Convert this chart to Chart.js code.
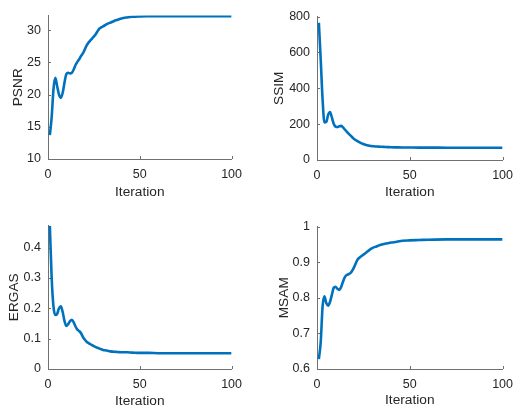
<!DOCTYPE html>
<html>
<head>
<meta charset="utf-8">
<script src="https://cdn.jsdelivr.net/npm/chart.js@4.4.1/dist/chart.umd.min.js"></script>
<style>
  html, body { margin: 0; padding: 0; background: #fff; }
  body { width: 516px; height: 410px; position: relative; overflow: hidden; }
  .panel { position: absolute; }
</style>
</head>
<body>
<div class="panel" id="p0"><canvas id="c0"></canvas></div>
<div class="panel" id="p1"><canvas id="c1"></canvas></div>
<div class="panel" id="p2"><canvas id="c2"></canvas></div>
<div class="panel" id="p3"><canvas id="c3"></canvas></div>
<script>
// iteration numbers where the curves were read
const iterations = [1, 2, 3, 4, 5, 6, 7, 8, 9, 10, 11, 12, 13, 14, 15, 16, 17, 18, 19, 20,
  21, 22, 23, 24, 25, 26, 27, 28, 29, 30, 32, 34, 36, 38, 40, 43, 46, 50, 55, 60, 70, 80, 90, 100];

const psnr = [13.7, 16.5, 20.9, 22.6, 21.3, 20.0, 19.5, 20.3, 21.9, 23.2, 23.4, 23.3, 23.4, 23.9, 24.6, 25.1, 25.5, 26.0, 26.4, 27.0,
  27.6, 28.05, 28.4, 28.7, 29.06, 29.4, 29.85, 30.25, 30.45, 30.6, 30.96, 31.2, 31.45, 31.65, 31.85, 32.0, 32.1, 32.15, 32.18, 32.2, 32.2, 32.2, 32.2, 32.2];

const ssim = [765, 560, 340, 210, 212, 252, 268, 238, 202, 186, 184, 188, 190, 182, 170, 158, 147, 137, 127, 117,
  110, 104, 98, 93, 89, 85, 82, 80, 78, 77, 75, 74, 73, 72, 71, 70.5, 70, 69.5, 69, 69, 68.5, 68.5, 68.5, 68.5];

const ergas = [0.472, 0.30, 0.205, 0.178, 0.182, 0.200, 0.207, 0.188, 0.158, 0.142, 0.148, 0.158, 0.162, 0.154, 0.140, 0.130, 0.125, 0.118, 0.106, 0.097,
  0.090, 0.086, 0.082, 0.079, 0.075, 0.072, 0.070, 0.067, 0.065, 0.063, 0.061, 0.058, 0.057, 0.056, 0.055, 0.055, 0.054, 0.053, 0.053, 0.052, 0.052, 0.052, 0.052, 0.052];

const msam = [0.628, 0.675, 0.775, 0.804, 0.785, 0.778, 0.788, 0.808, 0.828, 0.831, 0.825, 0.822, 0.830, 0.845, 0.858, 0.864, 0.866, 0.869, 0.876, 0.886,
  0.898, 0.908, 0.913, 0.917, 0.921, 0.925, 0.929, 0.933, 0.937, 0.940, 0.944, 0.948, 0.951, 0.953, 0.955, 0.957, 0.960, 0.961, 0.962, 0.963, 0.964, 0.964, 0.964, 0.964];

const xTicks = [0, 50, 100];
const psnrTicks = [10, 15, 20, 25, 30];
const ssimTicks = [0, 200, 400, 600, 800];
const ergasTicks = [0, 0.1, 0.2, 0.3, 0.4];
const msamTicks = [0.6, 0.7, 0.8, 0.9, 1];

const lineColor = '#0072BD';
const axisColor = '#707070';
const textColor = '#262626';
const tickFont = { family: 'Liberation Sans, Arial, sans-serif', size: 12.5 };
const titleFont = { family: 'Liberation Sans, Arial, sans-serif', size: 13.7 };

// box sizes around each plot area
const YW = 48, PT = 10, PR = 16, XH = 44;

// plot area [left, top, right, bottom] in page pixels, title offsets
const panels = [
  { label: 'PSNR', values: psnr, yMin: 10, yMax: 32.3, yTicks: psnrTicks, area: [48, 11, 234, 159], dx: 29.8, dy: 33.4 },
  { label: 'SSIM', values: ssim, yMin: 0, yMax: 800, yTicks: ssimTicks, area: [317, 12, 505, 160], dx: 37.6, dy: 32.7 },
  { label: 'ERGAS', values: ergas, yMin: 0, yMax: 0.473, yTicks: ergasTicks, area: [48, 221, 234, 369], dx: 34.2, dy: 32 },
  { label: 'MSAM', values: msam, yMin: 0.6, yMax: 1, yTicks: msamTicks, area: [317, 222, 505, 369], dx: 32.6, dy: 31.7 }
];

// MATLAB style ticks pointing into the axes
const inwardTicks = {
  id: 'inwardTicks',
  beforeDatasetsDraw(chart) {
    const { ctx, chartArea, scales: { x, y } } = chart;
    ctx.save();
    ctx.strokeStyle = axisColor;
    ctx.lineWidth = 1;
    ctx.beginPath();
    x.ticks.forEach(t => {
      const px = Math.round(x.getPixelForValue(t.value)) + 0.5;
      ctx.moveTo(px, chartArea.bottom);
      ctx.lineTo(px, chartArea.bottom - 3);
    });
    y.ticks.forEach(t => {
      const py = Math.round(y.getPixelForValue(t.value)) + 0.5;
      ctx.moveTo(chartArea.left, py);
      ctx.lineTo(chartArea.left + 3, py);
    });
    ctx.stroke();
    ctx.restore();
  }
};

panels.forEach((p, i) => {
  const [l, t, r, b] = p.area;
  const box = document.getElementById('p' + i);
  const canvas = document.getElementById('c' + i);
  const w = (r - l) + YW + PR;
  const h = (b - t) + PT + XH;
  box.style.left = (l - YW) + 'px';
  box.style.top = (t - PT) + 'px';
  canvas.width = w;
  canvas.height = h;

  const lh = titleFont.size * 1.2;

  new Chart(canvas.getContext('2d'), {
    type: 'line',
    data: {
      datasets: [{
        data: iterations.map((it, k) => ({ x: it, y: p.values[k] })),
        borderColor: lineColor,
        borderWidth: 2.6,
        pointRadius: 0,
        fill: false,
        cubicInterpolationMode: 'monotone'
      }]
    },
    options: {
      responsive: false,
      animation: false,
      layout: { padding: { top: PT, right: PR, left: 0, bottom: 0 } },
      plugins: { legend: { display: false }, tooltip: { enabled: false } },
      scales: {
        x: {
          type: 'linear',
          min: 0,
          max: 100,
          afterBuildTicks: s => { s.ticks = xTicks.map(v => ({ value: v })); },
          afterFit: s => { s.height = XH; },
          grid: { drawOnChartArea: false, drawTicks: false },
          border: { display: true, color: axisColor, width: 1 },
          ticks: { color: textColor, font: tickFont, padding: 8, maxRotation: 0 },
          title: { display: true, text: 'Iteration', color: textColor, font: titleFont,
                   padding: { top: 0, bottom: XH - p.dy - lh / 2 } }
        },
        y: {
          type: 'linear',
          min: p.yMin,
          max: p.yMax,
          afterBuildTicks: s => { s.ticks = p.yTicks.map(v => ({ value: v })); },
          afterFit: s => { s.width = YW; },
          grid: { drawOnChartArea: false, drawTicks: false },
          border: { display: true, color: axisColor, width: 1 },
          ticks: { color: textColor, font: tickFont, padding: 7,
                   callback: v => String(+v.toFixed(3)) },
          title: { display: true, text: p.label, color: textColor, font: titleFont,
                   padding: { top: YW - p.dx - lh / 2, bottom: 0 } }
        }
      }
    },
    plugins: [inwardTicks]
  });
});
</script>
</body>
</html>
